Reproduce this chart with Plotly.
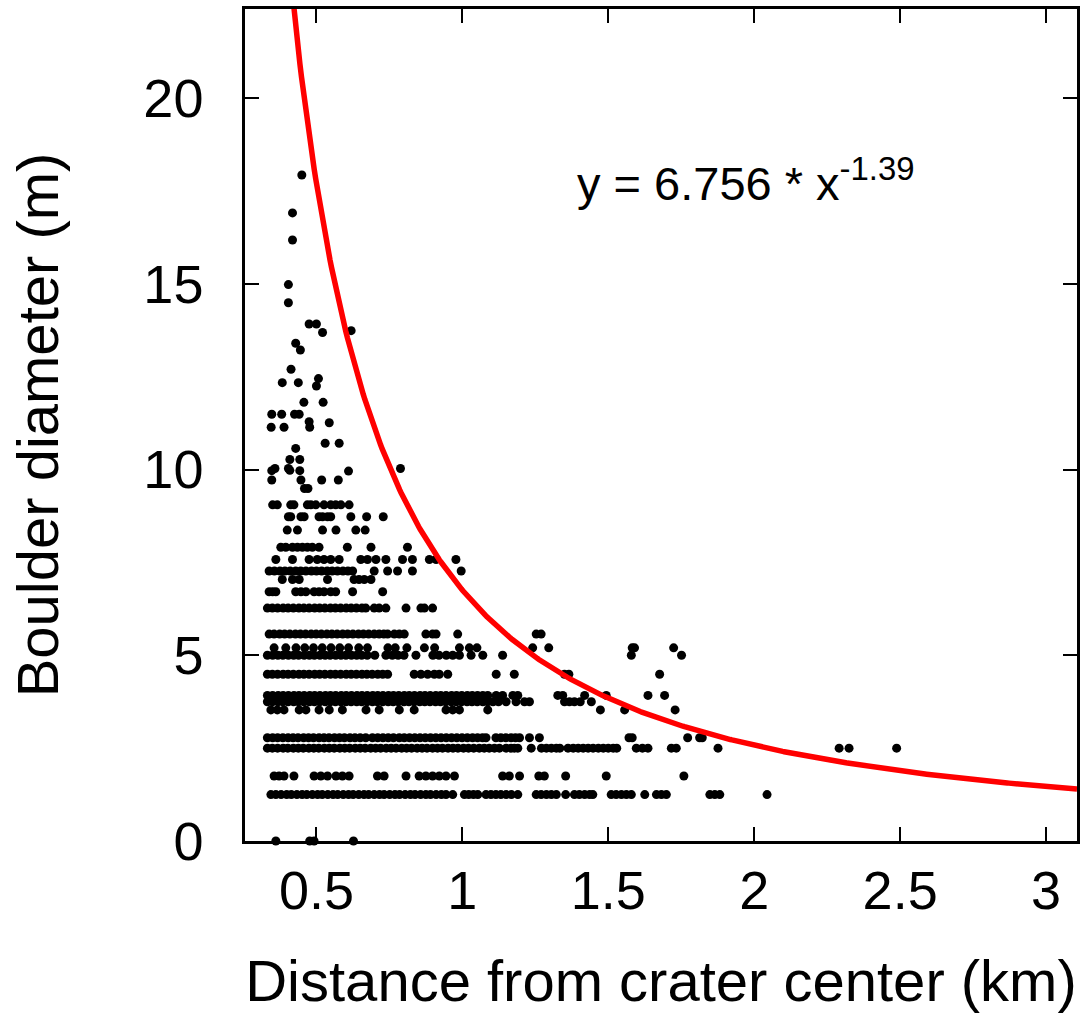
import numpy as np
import plotly.graph_objects as go

# ---- Fit parameters shown on chart ----
fit_a = 6.756
fit_b = -1.39

# ---- Boulder rows: y level (m) and distances (km) ----
x_0_00 = [0.361, 0.477, 0.492, 0.627]
x_1_25 = [0.344, 0.361, 0.379, 0.398, 0.414, 0.433, 0.451, 0.467, 0.486, 0.504, 0.520, 0.539, 0.557,
          0.573, 0.592, 0.610, 0.626, 0.645, 0.663, 0.679, 0.698, 0.716, 0.732, 0.751, 0.769, 0.785,
          0.804, 0.822, 0.838, 0.857, 0.875, 0.891, 0.910, 0.928, 0.944, 0.967,
          1.007, 1.022, 1.038, 1.053, 1.081, 1.098, 1.115, 1.132, 1.150, 1.168, 1.190,
          1.253, 1.270, 1.288, 1.305, 1.322, 1.354, 1.384, 1.401, 1.419, 1.436, 1.447,
          1.510, 1.527, 1.545, 1.562, 1.579, 1.625, 1.665, 1.682, 1.699, 1.848, 1.865, 1.882, 2.044]
x_1_75 = [0.355, 0.372, 0.389, 0.423, 0.492, 0.515, 0.538, 0.567, 0.589, 0.612, 0.709, 0.732, 0.807,
          0.852, 0.875, 0.898, 0.921, 0.944, 0.973, 1.138, 1.161, 1.196, 1.262, 1.281, 1.354, 1.493, 1.759]
x_2_50 = [0.332, 0.349, 0.367, 0.386, 0.402, 0.421, 0.438, 0.455, 0.474, 0.491, 0.508, 0.527, 0.544,
          0.561, 0.580, 0.597, 0.614, 0.633, 0.650, 0.667, 0.686, 0.703, 0.720, 0.739, 0.756, 0.773,
          0.792, 0.809, 0.826, 0.845, 0.862, 0.879, 0.898, 0.915, 0.932, 0.951, 0.968, 0.985, 1.004,
          1.021, 1.039, 1.058, 1.075, 1.092, 1.110, 1.127, 1.150, 1.167, 1.178, 1.190, 1.236,
          1.271, 1.288, 1.305, 1.322, 1.334, 1.362, 1.380, 1.397, 1.414, 1.431, 1.448, 1.466, 1.483,
          1.500, 1.517, 1.529, 1.596, 1.617, 1.636, 1.716, 1.733, 1.876, 2.291, 2.325, 2.488]
x_2_78 = [0.332, 0.350, 0.367, 0.385, 0.403, 0.420, 0.437, 0.456, 0.473, 0.490, 0.509, 0.526, 0.543,
          0.562, 0.579, 0.596, 0.615, 0.632, 0.650, 0.669, 0.692, 0.710, 0.728, 0.746, 0.764, 0.784,
          0.801, 0.819, 0.837, 0.855, 0.873, 0.891, 0.909, 0.927, 0.945, 0.963, 0.981, 0.999, 1.017,
          1.035, 1.052, 1.069, 1.081, 1.115, 1.132, 1.149, 1.167, 1.182, 1.196, 1.230, 1.264,
          1.571, 1.582, 1.772, 1.813, 1.822]
x_3_53 = [0.344, 0.366, 0.389, 0.441, 0.464, 0.509, 0.544, 0.589, 0.670, 0.715, 0.784, 0.835, 0.944,
          0.967, 0.990, 1.087, 1.473, 1.556, 1.729]
x_3_75 = [0.332, 0.349, 0.368, 0.385, 0.403, 0.422, 0.439, 0.457, 0.476, 0.493, 0.511, 0.530, 0.547,
          0.565, 0.584, 0.601, 0.619, 0.638, 0.655, 0.673, 0.692, 0.709, 0.727, 0.746, 0.763, 0.781,
          0.800, 0.817, 0.835, 0.854, 0.871, 0.889, 0.908, 0.925, 0.943, 0.962, 0.979, 0.997, 1.016,
          1.033, 1.051, 1.070, 1.087, 1.105, 1.124, 1.150, 1.184, 1.213, 1.230,
          1.350, 1.367, 1.384, 1.404, 1.442]
x_3_92 = [0.332, 0.350, 0.369, 0.386, 0.404, 0.423, 0.440, 0.458, 0.477, 0.494, 0.512, 0.531, 0.548,
          0.566, 0.585, 0.602, 0.620, 0.639, 0.656, 0.674, 0.693, 0.710, 0.728, 0.747, 0.764, 0.782,
          0.801, 0.818, 0.836, 0.855, 0.872, 0.890, 0.909, 0.926, 0.944, 0.963, 0.980, 0.998, 1.017,
          1.034, 1.052, 1.070, 1.087, 1.116, 1.138, 1.173, 1.190, 1.327, 1.344, 1.419, 1.493,
          1.636, 1.693]
x_4_49 = [0.332, 0.349, 0.367, 0.386, 0.403, 0.421, 0.440, 0.457, 0.475, 0.494, 0.511, 0.529, 0.548,
          0.565, 0.583, 0.602, 0.619, 0.637, 0.656, 0.673, 0.691, 0.710, 0.727, 0.744,
          0.835, 0.858, 0.881, 0.904, 0.921, 0.950, 1.116, 1.178, 1.350, 1.365, 1.676]
x_5_00 = [0.332, 0.350, 0.368, 0.385, 0.404, 0.422, 0.439, 0.458, 0.476, 0.493, 0.512, 0.530, 0.547,
          0.566, 0.584, 0.601, 0.620, 0.638, 0.655, 0.674, 0.700, 0.738, 0.760, 0.780, 0.800, 0.841,
          0.899, 0.920, 0.945, 0.967, 0.990, 1.030, 1.070, 1.138, 1.579, 1.751]
x_5_20 = [0.355, 0.395, 0.430, 0.460, 0.490, 0.520, 0.550, 0.580, 0.610, 0.645, 0.675, 0.745, 0.770,
          0.810, 0.870, 0.905, 0.990, 1.024, 1.050, 1.241, 1.296, 1.582, 1.590, 1.724]
x_5_57 = [0.338, 0.355, 0.374, 0.391, 0.409, 0.428, 0.445, 0.463, 0.482, 0.499, 0.517, 0.536, 0.553,
          0.571, 0.590, 0.607, 0.625, 0.644, 0.661, 0.679, 0.698, 0.715, 0.731, 0.744, 0.767, 0.784,
          0.801, 0.875, 0.898, 0.910, 0.984, 1.253, 1.270]
x_6_27 = [0.332, 0.349, 0.367, 0.386, 0.403, 0.421, 0.440, 0.457, 0.475, 0.494, 0.511, 0.529, 0.548,
          0.565, 0.583, 0.602, 0.619, 0.637, 0.656, 0.669, 0.698, 0.715, 0.738, 0.807, 0.858, 0.870, 0.898]
x_6_71 = [0.338, 0.350, 0.361, 0.429, 0.447, 0.464, 0.492, 0.509, 0.526, 0.549, 0.566, 0.624, 0.727]
x_7_04 = [0.383, 0.418, 0.441, 0.538, 0.629, 0.646, 0.664, 0.687]
x_7_27 = [0.338, 0.356, 0.375, 0.392, 0.410, 0.429, 0.446, 0.464, 0.483, 0.500, 0.518, 0.537, 0.554,
          0.572, 0.591, 0.608, 0.624, 0.698, 0.744, 0.778, 0.829, 0.996]
x_7_58 = [0.361, 0.418, 0.475, 0.503, 0.526, 0.549, 0.578, 0.652, 0.675, 0.704, 0.738, 0.795, 0.829,
          0.887, 0.910, 0.978]
x_7_91 = [0.378, 0.395, 0.418, 0.435, 0.452, 0.469, 0.486, 0.509, 0.606, 0.687, 0.812]
x_8_37 = [0.400, 0.435, 0.521, 0.567, 0.635, 0.667]
x_8_73 = [0.404, 0.412, 0.447, 0.458, 0.509, 0.521, 0.538, 0.549, 0.618, 0.672, 0.729]
x_9_05 = [0.350, 0.366, 0.412, 0.423, 0.469, 0.481, 0.498, 0.526, 0.549, 0.566, 0.584, 0.612]

row_levels = [0.0, 1.25, 1.75, 2.5, 2.78, 3.53, 3.75, 3.92, 4.49, 5.0, 5.2, 5.57, 6.27, 6.71,
              7.04, 7.27, 7.58, 7.91, 8.37, 8.73, 9.05]
row_distances = [x_0_00, x_1_25, x_1_75, x_2_50, x_2_78, x_3_53, x_3_75, x_3_92, x_4_49, x_5_00,
                 x_5_20, x_5_57, x_6_27, x_6_71, x_7_04, x_7_27, x_7_58, x_7_91, x_8_37, x_8_73, x_9_05]

# Scattered large boulders
big_x = [0.459, 0.471, 0.347, 0.447, 0.518, 0.575, 0.347, 0.358, 0.404, 0.409, 0.443, 0.610, 0.788,
         0.409, 0.443, 0.429, 0.530, 0.578, 0.345, 0.389, 0.477, 0.475, 0.544, 0.347, 0.381, 0.425,
         0.441, 0.457, 0.523, 0.383, 0.438, 0.507, 0.500, 0.413, 0.445, 0.429, 0.521, 0.619, 0.475,
         0.500, 0.404, 0.404, 0.418, 0.418, 0.450]
big_y = [9.49, 9.49, 9.72, 9.72, 9.72, 9.72, 9.97, 10.03, 10.03, 9.98, 9.97, 9.96, 10.03,
         10.27, 10.27, 10.57, 10.71, 10.71, 11.14, 11.14, 11.14, 11.29, 11.26, 11.49, 11.49, 11.49,
         11.49, 11.81, 11.81, 12.34, 12.34, 12.45, 12.25, 12.70, 13.22, 13.40, 13.69, 13.74, 13.92,
         13.92, 14.49, 14.98, 16.18, 16.91, 17.93]

pts_x, pts_y = [], []
for lvl, xs in zip(row_levels, row_distances):
    pts_x += xs
    pts_y += [lvl] * len(xs)
pts_x += big_x
pts_y += big_y

x_ticks = [0.5, 1, 1.5, 2, 2.5, 3]
x_ticktext = ["0.5", "1", "1.5", "2", "2.5", "3"]
y_ticks = [0, 5, 10, 15, 20]
y_ticktext = ["0", "5", "10", "15", "20"]

x_range = [0.2553, 3.106]
y_range = [0, 22.4]

curve_x = np.linspace(0.40, x_range[1], 500)
curve_y = fit_a * curve_x ** fit_b

FONT = "Liberation Sans, Arial, Helvetica, sans-serif"

fig = go.Figure()
fig.add_trace(go.Scatter(x=pts_x, y=pts_y, mode="markers",
                         marker=dict(color="black", size=9, line=dict(width=0)),
                         cliponaxis=False, showlegend=False))
fig.add_trace(go.Scatter(x=curve_x, y=curve_y, mode="lines",
                         line=dict(color="#ff0000", width=5.5), showlegend=False))

axis_common = dict(showline=True, linecolor="black", linewidth=2.5, mirror="ticks",
                   ticks="inside", ticklen=14, tickwidth=2, tickcolor="black",
                   showgrid=False, zeroline=False,
                   tickfont=dict(family=FONT, size=54, color="black"))

fig.update_xaxes(range=x_range, tickvals=x_ticks, ticktext=x_ticktext,
                 ticklabelstandoff=0,
                 title=dict(text="Distance from crater center (km)",
                            font=dict(family=FONT, size=58, color="black"), standoff=42),
                 **axis_common)
fig.update_yaxes(range=y_range, tickvals=y_ticks, ticktext=y_ticktext,
                 ticklabelstandoff=28,
                 title=dict(text="Boulder diameter (m)",
                            font=dict(family=FONT, size=58, color="black"), standoff=67),
                 **axis_common)

fig.add_annotation(x=1.385, y=17.8, xref="x", yref="y", xanchor="left", yanchor="middle",
                   text="y = 6.756 * x<sup>-1.39</sup>", showarrow=False,
                   font=dict(family=FONT, size=47, color="black"))

fig.update_layout(width=1087, height=1017,
                  margin=dict(l=245, r=10, t=9, b=176, autoexpand=False),
                  plot_bgcolor="white", paper_bgcolor="white",
                  font=dict(family=FONT, color="black"))

fig.write_html("out.html", config={"displayModeBar": False},
               post_script="document.body.style.margin='0';document.body.style.overflow='hidden';")
